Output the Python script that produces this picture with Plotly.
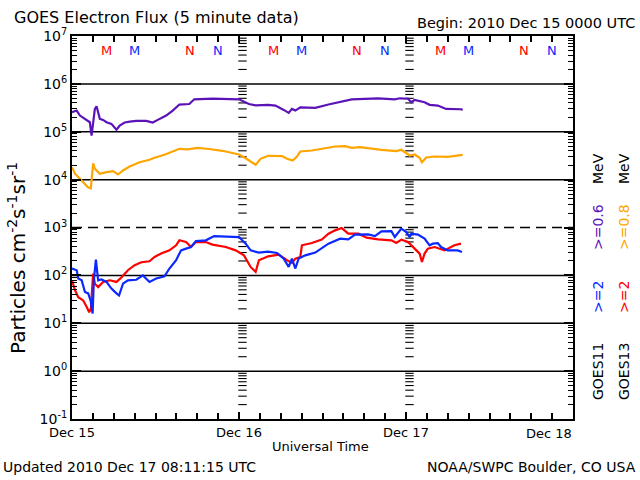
import plotly.graph_objects as go

# ---------------- data (hours since 2010 Dec 15 00:00 UTC, flux) ----------------
g11_06_hours = [0, 0.67, 1.14, 1.86, 2.57, 2.81, 3.04, 3.29, 3.53, 3.76, 4.0, 4.47, 4.96, 5.67,
                6.39, 6.86, 7.57, 8.29, 9.24, 10.67, 11.61, 12.33, 13.53, 14.47, 15.43, 16.86,
                17.57, 20.19, 24.0, 25.43, 26.39, 28.19, 29.24, 30.43, 31.14, 31.61, 32.1, 32.81,
                34.96, 36.86, 38.76, 40.19, 44.0, 46.39, 47.1, 48.29, 48.76, 49.24, 50.67, 51.39,
                52.57, 53.76, 55.9, 56.14]
g11_06_flux = [2.55e5, 2.77e5, 2.18e5, 1.86e5, 1.58e5, 8.3e4, 1.46e5, 3.0e5, 3.4e5, 2.37e5, 1.86e5,
               1.77e5, 1.58e5, 1.46e5, 1.10e5, 1.35e5, 1.56e5, 1.63e5, 1.69e5, 1.69e5, 1.56e5,
               1.77e5, 2.18e5, 2.77e5, 3.7e5, 3.8e5, 4.76e5, 4.93e5, 4.76e5, 3.8e5, 3.57e5,
               3.65e5, 3.52e5, 2.86e5, 2.48e5, 3.0e5, 2.77e5, 3.24e5, 3.15e5, 3.7e5, 4.27e5,
               4.76e5, 5.0e5, 4.76e5, 5.0e5, 4.9e5, 4.13e5, 4.63e5, 4.13e5, 3.65e5, 3.52e5,
               3.0e5, 2.95e5, 2.86e5]

g13_08_hours = [0, 0.43, 1.14, 1.71, 2.29, 2.71, 3.04, 3.29, 4.0, 4.96, 5.9, 6.61, 7.33, 8.29,
                9.71, 11.14, 11.86, 13.29, 14.71, 15.43, 16.61, 18.04, 19.71, 21.61, 24.0, 24.96,
                26.39, 27.1, 28.19, 30.19, 30.9, 31.71, 32.33, 32.81, 34.47, 35.9, 37.81, 39.24,
                40.19, 41.39, 42.1, 44.47, 46.61, 47.33, 48.53, 49.24, 49.96, 50.29, 50.9, 52.1,
                54.0, 55.43, 56.14]
g13_08_flux = [1.82e4, 1.33e4, 1.04e4, 8.3e3, 6.9e3, 6.6e3, 2.2e4, 1.69e4, 1.33e4, 1.43e4, 1.50e4,
               1.28e4, 1.55e4, 1.88e4, 2.31e4, 2.6e4, 2.86e4, 3.3e4, 4.06e4, 4.4e4, 4.27e4,
               4.62e4, 4.36e4, 4.0e4, 3.35e4, 2.8e4, 2.04e4, 2.72e4, 3.15e4, 3.1e4, 2.72e4,
               2.5e4, 3.04e4, 3.87e4, 4.06e4, 4.36e4, 4.92e4, 4.99e4, 4.62e4, 4.77e4, 4.62e4,
               4.2e4, 3.93e4, 4.2e4, 3.19e4, 3.35e4, 2.86e4, 2.31e4, 2.9e4, 3.04e4, 3.0e4,
               3.2e4, 3.3e4]

g11_2_hours = [0, 0.67, 0.9, 1.39, 1.86, 2.33, 2.67, 2.96, 3.14, 3.43, 3.76, 4.24, 4.96, 5.67,
               6.39, 6.76, 7.33, 8.04, 9.24, 10.19, 11.14, 12.1, 13.29, 14.0, 14.96, 15.67,
               16.39, 17.1, 17.81, 19.24, 20.43, 22.57, 24.0, 24.96, 25.67, 26.86, 28.19, 29.47,
               30.43, 31.14, 31.61, 32.1, 32.57, 33.53, 34.96, 36.86, 38.53, 39.71, 40.67, 42.57,
               43.53, 44.47, 45.9, 46.39, 47.33, 48.04, 48.53, 48.76, 49.71, 50.67, 51.39, 51.86,
               52.57, 53.04, 54.0, 55.43, 56.04]
g11_2_flux = [139, 128, 86, 79, 45, 42, 30, 16, 79, 213, 79, 82, 73, 53, 42, 38, 67, 79, 81, 100,
              73, 86, 96, 139, 207, 333, 362, 391, 521, 540, 663, 632, 632, 460, 333, 299, 313,
              293, 224, 150, 224, 139, 224, 262, 299, 460, 585, 566, 709, 716, 663, 832, 840,
              632, 946, 803, 632, 744, 709, 585, 425, 460, 472, 391, 333, 333, 308]

g13_2_hours = [0, 0.43, 0.9, 1.61, 2.1, 2.47, 2.71, 3.04, 3.29, 3.76, 4.47, 5.43, 6.39, 7.1, 8.04,
               9.0, 9.96, 11.14, 11.86, 12.81, 14.0, 14.96, 15.43, 16.39, 17.1, 17.81, 19.24,
               20.19, 22.1, 23.53, 24.71, 25.67, 26.39, 26.86, 28.19, 29.71, 30.9, 31.61, 32.1,
               32.81, 33.04, 34.47, 35.9, 36.86, 37.81, 38.76, 39.71, 41.14, 42.33, 44.0, 45.9,
               46.61, 47.33, 48.29, 49.24, 49.96, 50.29, 50.67, 51.14, 52.1, 53.53, 54.96, 55.9]
g13_2_flux = [79, 49, 35, 30, 22, 17, 20, 109, 67, 57, 73, 79, 73, 90, 128, 163, 188, 197, 242,
              285, 333, 425, 540, 497, 391, 497, 497, 439, 391, 333, 262, 150, 118, 207, 250,
              271, 207, 182, 224, 242, 425, 474, 558, 744, 871, 973, 744, 744, 614, 566, 540,
              474, 558, 497, 362, 285, 190, 285, 362, 391, 333, 425, 460]

# local midnight (M) and noon (N) markers, hours
g13_midnight = [5, 29, 53]
g11_midnight = [9, 33, 57]
g13_noon = [17, 41, 65]
g11_noon = [21, 45, 69]

day_hours = [0, 24, 48]
day_labels = ["Dec 15", "Dec 16", "Dec 17", "Dec 18"]
decades = [-1, 0, 1, 2, 3, 4, 5, 6, 7]

PURPLE = "#5b13b8"
ORANGE = "#ffa500"
BLUE = "#0a28ff"
RED = "#ff0000"
FONT = "DejaVu Sans"

# ---------------- figure ----------------
L, R, T, B = 72, 573, 36, 419


def px(x):
    return (x - L) / (R - L)


def py(y):
    return (B - y) / (B - T)


fig = go.Figure()

# ticks drawn at day boundaries
minor_vals = [m * 10.0 ** k for k in range(-1, 7) for m in range(2, 10)]
for d in day_hours[1:]:
    fig.add_trace(go.Scatter(
        x=[d + 0.5] * len(minor_vals), y=minor_vals, mode="markers",
        marker=dict(symbol="line-ew", size=6, line=dict(width=1.1, color="black")),
        hoverinfo="skip", showlegend=False))

for hrs, flux, col in [(g11_06_hours, g11_06_flux, PURPLE),
                       (g13_08_hours, g13_08_flux, ORANGE),
                       (g13_2_hours, g13_2_flux, RED),
                       (g11_2_hours, g11_2_flux, BLUE)]:
    fig.add_trace(go.Scatter(x=hrs, y=flux, mode="lines",
                             line=dict(color=col, width=2.2), showlegend=False))

# horizontal decade lines
shapes = []
for k in decades[1:-1]:
    shapes.append(dict(type="line", xref="paper", x0=0, x1=1, yref="y", y0=10.0 ** k, y1=10.0 ** k,
                       line=dict(color="black", width=1.5,
                                 dash="10px,6px" if k == 3 else "solid"),
                       layer="below"))

annotations = []


def ann(text, x, y, size=13, color="black", xanchor="center", yanchor="middle", angle=0,
        xref="paper"):
    annotations.append(dict(text=text, x=x, y=y, xref=xref, yref="paper", showarrow=False,
                            xanchor=xanchor, yanchor=yanchor, textangle=angle,
                            font=dict(family=FONT, size=size, color=color)))


ann("GOES Electron Flux (5 minute data)", px(12), py(17), size=16, xanchor="left")
ann("Begin: 2010 Dec 15 0000 UTC", px(637), py(23), size=14.5, xanchor="right")
ann("Particles cm<sup>-2</sup>s<sup>-1</sup>sr<sup>-1</sup>", px(17), py(258), size=20, angle=-90)
ann(day_labels[3], px(549), py(433), size=13)
ann("Universal Time", px(320), py(446), size=13)
ann("Updated 2010 Dec 17 08:11:15 UTC", px(1), py(467), size=14, xanchor="left")
ann("NOAA/SWPC Boulder, CO USA", px(638), py(467), size=14, xanchor="right")

# right-hand legend (rotated)
ann("GOES11", px(598), py(372), size=14, angle=-90)
ann("&gt;=2", px(598), py(297), size=14, color=BLUE, angle=-90)
ann("&gt;=0.6", px(598), py(227), size=14, color=PURPLE, angle=-90)
ann("MeV", px(598), py(169), size=14, angle=-90)
ann("GOES13", px(624), py(372), size=14, angle=-90)
ann("&gt;=2", px(624), py(297), size=14, color=RED, angle=-90)
ann("&gt;=0.8", px(624), py(227), size=14, color=ORANGE, angle=-90)
ann("MeV", px(624), py(169), size=14, angle=-90)

for hrs, lab, col in [(g13_midnight, "M", RED), (g11_midnight, "M", BLUE),
                      (g13_noon, "N", RED), (g11_noon, "N", BLUE)]:
    for h in hrs:
        ann(lab, h, py(51), size=13, color=col, xref="x")

fig.update_layout(
    width=640, height=480,
    margin=dict(l=L, r=640 - R, t=T, b=480 - B, pad=0),
    paper_bgcolor="white", plot_bgcolor="white",
    font=dict(family=FONT, size=13, color="black"),
    shapes=shapes, annotations=annotations, showlegend=False,
)

fig.update_xaxes(
    range=[0, 72], showgrid=False, zeroline=False,
    showline=True, linecolor="black", linewidth=2, mirror="allticks",
    ticks="inside", ticklen=7, tickwidth=1.5, tickcolor="black",
    tickmode="array", tickvals=day_hours, ticktext=day_labels[:3],
    tickfont=dict(family=FONT, size=13),
    minor=dict(tickmode="array", tickvals=[h for h in range(3, 72, 3) if h % 24],
               ticks="inside", ticklen=6, tickwidth=1.5, tickcolor="black", showgrid=False),
)

fig.update_yaxes(
    type="log", range=[-1, 7], showgrid=False, zeroline=False,
    showline=True, linecolor="black", linewidth=2, mirror="allticks",
    ticks="inside", ticklen=9, tickwidth=1.5, tickcolor="black",
    tickmode="array", tickvals=[10.0 ** k for k in decades],
    ticktext=["10<sup>%d</sup>" % k for k in decades],
    tickfont=dict(family=FONT, size=14),
    minor=dict(tickmode="array", tickvals=minor_vals, ticks="inside", ticklen=5,
               tickwidth=1.2, tickcolor="black", showgrid=False),
)

fig.write_html("out.html")
